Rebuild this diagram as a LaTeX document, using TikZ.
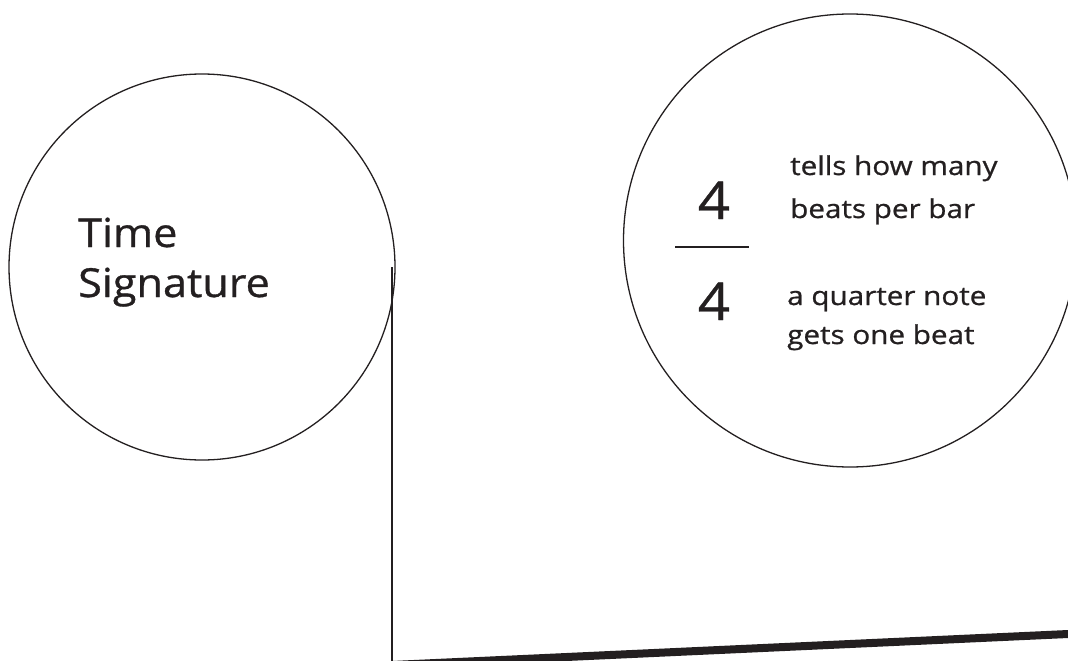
\documentclass[tikz,border=0pt]{standalone}
\usepackage{fontspec}
\setmainfont{Open Sans}[FakeStretch=1.08, FakeBold=0.8]
\newfontfamily\notefont{Open Sans}[FakeStretch=1.14, FakeBold=0.8]
\definecolor{ink}{RGB}{35,31,32}
\begin{document}
\begin{tikzpicture}[x=1pt,y=-1pt,
  ring/.style={circle, draw=ink, line width=1.3pt, inner sep=0pt},
  big/.style={anchor=base west, text=ink, inner sep=0pt, font=\fontsize{40}{48}\selectfont},
  num/.style={anchor=base, text=ink, inner sep=0pt, font=\fontsize{52}{60}\selectfont},
  note/.style={anchor=base west, text=ink, inner sep=0pt, font=\notefont\fontsize{26}{30}\selectfont}]
\useasboundingbox (0,0) rectangle (1068,661);
\clip (0,0) rectangle (1068,661);
\node[ring, minimum size=386pt] (ts) at (202,267) {};
\node[ring, minimum size=453pt] (sig) at (850,240.5) {};
\node[big] (t1) at (78,247) {Time};
\node[big] (t2) at (78,297) {Signature};
\node[num] (n1) at (714,219) {4};
\node[num] (n2) at (714,320) {4};
\coordinate (b1) at (675,247);
\coordinate (b2) at (749,247);
\draw[draw=ink, line width=1.6pt] (b1) -- (b2);
\node[note] (l1) at (790,175) {tells how many};
\node[note] (l2) at (790,218) {beats per bar};
\node[note] (l3) at (787,305) {a quarter note};
\node[note] (l4) at (787,344) {gets one beat};
\coordinate (c1) at (392,661);
\coordinate (c2) at (1068,634);
\draw[draw=ink, line width=2.2pt] (ts.east -| c1) -- (c1);
\draw[draw=ink, line width=8pt] ([yshift=-4pt]c1) -- (c2);
\end{tikzpicture}
\end{document}
